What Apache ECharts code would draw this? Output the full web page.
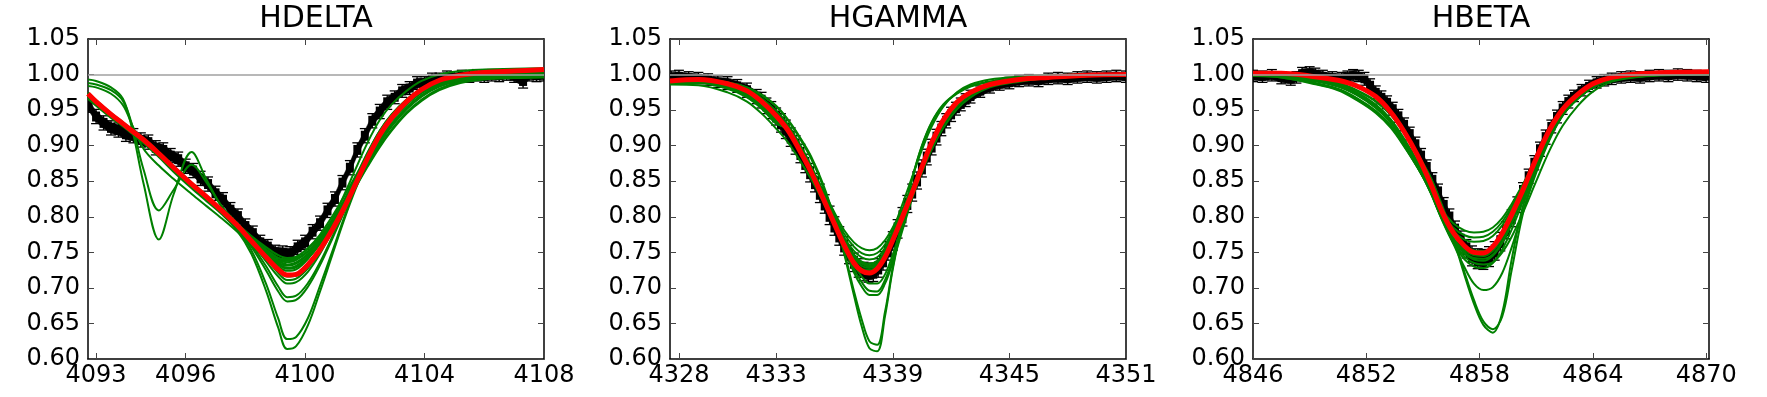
<!DOCTYPE html>
<html lang="en">
<head>
<meta charset="UTF-8">
<title>Balmer line fits</title>
<script src="https://cdn.jsdelivr.net/npm/echarts@6/dist/echarts.min.js"></script>
<style>
  body { margin: 0; padding: 0; background: #fff; }
  #main { width: 1767px; height: 397px; }
</style>
</head>
<body>
<div id="main"></div>
<script>
// ---------------- panel names / axes ----------------
var titles = ['HDELTA', 'HGAMMA', 'HBETA'];
var xRange1 = [4092.73, 4108.0];
var xRange2 = [4327.54, 4351.0];
var xRange3 = [4846.0, 4870.15];
var ticks1 = [4093, 4096, 4100, 4104, 4108];
var ticks2 = [4328, 4333, 4339, 4345, 4351];
var ticks3 = [4846, 4852, 4858, 4864, 4870];
var yMin = 0.60, yMax = 1.05, yStep = 0.05;

// ---------------- HDELTA ----------------
// observed spectrum: [wavelength, flux, error]
var obs1 = [
  [4092.75,0.957,0.010],[4093.00,0.941,0.010],[4093.25,0.932,0.010],[4093.50,0.925,0.010],
  [4093.75,0.922,0.010],[4094.00,0.916,0.010],[4094.25,0.914,0.010],[4094.50,0.908,0.010],
  [4094.75,0.905,0.010],[4095.00,0.897,0.010],[4095.25,0.894,0.010],[4095.50,0.886,0.010],
  [4095.75,0.881,0.010],[4096.00,0.871,0.010],[4096.25,0.865,0.010],[4096.50,0.854,0.010],
  [4096.75,0.846,0.010],[4097.00,0.833,0.010],[4097.25,0.824,0.010],[4097.50,0.810,0.010],
  [4097.75,0.801,0.010],[4098.00,0.787,0.010],[4098.25,0.777,0.010],[4098.50,0.764,0.010],
  [4098.75,0.758,0.010],[4099.00,0.750,0.010],[4099.25,0.749,0.010],[4099.50,0.748,0.010],
  [4099.75,0.757,0.010],[4100.00,0.764,0.010],[4100.25,0.779,0.010],[4100.50,0.791,0.010],
  [4100.75,0.809,0.010],[4101.00,0.825,0.010],[4101.25,0.848,0.010],[4101.50,0.869,0.010],
  [4101.75,0.894,0.010],[4102.00,0.914,0.010],[4102.25,0.935,0.010],[4102.50,0.948,0.010],
  [4102.75,0.961,0.010],[4103.00,0.968,0.009],[4103.25,0.977,0.009],[4103.50,0.981,0.009],
  [4103.75,0.988,0.009],[4104.00,0.989,0.008],[4104.25,0.994,0.008],[4104.50,0.994,0.008],
  [4104.75,0.997,0.008],[4105.00,0.996,0.008],[4105.25,0.998,0.008],[4105.50,0.997,0.008],
  [4105.75,0.999,0.008],[4106.00,0.997,0.008],[4106.25,0.999,0.008],[4106.50,0.998,0.008],
  [4106.75,1.000,0.008],[4107.00,0.997,0.008],[4107.30,0.991,0.010],[4107.50,0.999,0.008],
  [4107.75,0.998,0.008],[4108.00,0.999,0.008]
];
var xs1 = [4092.73,4093.0,4093.5,4093.9,4094.2,4094.6,4095.1,4095.6,4096.2,4096.7,4097.2,4097.7,
           4098.2,4098.7,4099.1,4099.4,4099.7,4100.1,4100.5,4100.9,4101.3,4101.7,4102.1,4102.5,
           4102.9,4103.4,4103.9,4104.5,4105.2,4106.0,4107.0,4108.0];
var best1 = [.973,.962,.944,.931,.921,.908,.889,.869,.846,.828,.809,.789,.766,.743,.726,.718,.719,.733,.754,.781,.812,.847,.883,.915,.939,.962,.979,.992,.999,1.003,1.005,1.007];
var models1 = [
  [.993,.991,.982,.966,.925,.845,.768,.832,.891,.852,.815,.792,.770,.748,.733,.727,.729,.742,.762,.789,.820,.855,.890,.921,.944,.965,.980,.991,.997,1.000,1.002,1.003],
  [.988,.986,.978,.963,.930,.865,.809,.838,.873,.848,.815,.792,.770,.749,.734,.728,.730,.743,.763,.790,.821,.856,.891,.921,.944,.965,.980,.991,.997,1.000,1.002,1.003],
  [.984,.982,.973,.957,.930,.895,.872,.853,.832,.815,.798,.780,.760,.740,.724,.716,.717,.731,.752,.779,.810,.846,.882,.914,.938,.961,.978,.990,.997,1.001,1.004,1.006],
  [.966,.956,.939,.927,.917,.903,.884,.863,.840,.822,.804,.782,.748,.695,.644,.614,.618,.648,.695,.745,.795,.840,.878,.910,.935,.958,.976,.989,.996,1.001,1.003,1.004],
  [.969,.958,.941,.928,.918,.905,.886,.865,.842,.824,.806,.784,.753,.705,.657,.628,.631,.658,.703,.750,.798,.843,.880,.912,.937,.960,.977,.990,.997,1.001,1.003,1.004],
  [.970,.960,.942,.929,.919,.905,.886,.866,.843,.825,.806,.785,.758,.724,.695,.681,.683,.702,.732,.768,.806,.845,.881,.912,.936,.959,.976,.989,.996,1.001,1.003,1.005],
  [.972,.961,.943,.930,.920,.907,.888,.868,.845,.827,.808,.787,.761,.730,.702,.687,.689,.707,.736,.771,.808,.847,.882,.913,.937,.960,.977,.990,.997,1.002,1.004,1.005],
  [.971,.960,.942,.929,.919,.906,.887,.867,.845,.826,.807,.787,.764,.737,.716,.706,.708,.723,.748,.779,.812,.848,.883,.914,.938,.960,.977,.990,.997,1.001,1.003,1.004],
  [.974,.963,.945,.932,.922,.909,.890,.870,.847,.829,.810,.790,.767,.742,.721,.711,.713,.728,.752,.781,.813,.848,.883,.914,.938,.960,.977,.990,.997,1.002,1.004,1.006],
  [.970,.960,.942,.929,.919,.906,.887,.867,.845,.827,.808,.788,.767,.747,.733,.728,.731,.744,.762,.786,.813,.842,.871,.898,.921,.945,.963,.978,.988,.993,.995,.996],
  [.972,.962,.944,.931,.921,.908,.889,.869,.847,.829,.810,.790,.770,.751,.738,.733,.736,.748,.766,.789,.815,.844,.873,.900,.923,.947,.965,.980,.990,.995,.997,.998],
  [.969,.959,.941,.928,.918,.905,.886,.867,.846,.828,.810,.791,.772,.754,.742,.738,.741,.752,.769,.791,.817,.846,.875,.903,.927,.951,.969,.983,.992,.996,.998,.999],
  [.973,.962,.944,.931,.921,.908,.889,.869,.846,.828,.809,.789,.768,.746,.730,.724,.726,.741,.764,.795,.830,.868,.905,.936,.958,.977,.991,1.000,1.005,1.007,1.008,1.009],
  [.975,.964,.946,.933,.923,.910,.891,.871,.848,.830,.811,.791,.770,.749,.736,.731,.734,.747,.767,.793,.822,.854,.886,.914,.937,.959,.975,.987,.995,1.000,1.002,1.003],
  [.970,.961,.943,.930,.920,.907,.888,.868,.846,.828,.809,.789,.769,.750,.739,.736,.739,.751,.770,.795,.823,.852,.881,.908,.931,.954,.971,.984,.992,.997,1.000,1.001],
  [.971,.961,.943,.930,.920,.907,.888,.868,.846,.828,.810,.791,.773,.757,.746,.742,.744,.755,.772,.795,.821,.850,.879,.906,.929,.952,.970,.984,.993,.998,1.001,1.002],
  [.972,.962,.944,.931,.921,.908,.889,.869,.847,.829,.810,.790,.771,.753,.742,.740,.743,.756,.775,.800,.828,.858,.888,.915,.937,.958,.974,.986,.994,.999,1.001,1.002]
];

// ---------------- HGAMMA ----------------
var obs2 = [
  [4327.6,0.997,0.008],[4328.0,0.998,0.008],[4328.5,0.996,0.008],[4329.0,0.995,0.008],
  [4329.5,0.993,0.008],[4330.0,0.990,0.008],[4330.5,0.988,0.009],[4331.0,0.984,0.009],
  [4331.5,0.978,0.010],[4332.0,0.969,0.010],[4332.25,0.964,0.011],[4332.5,0.956,0.011],
  [4332.75,0.950,0.012],[4333.0,0.941,0.012],[4333.25,0.932,0.013],[4333.5,0.923,0.013],
  [4333.75,0.912,0.013],[4334.0,0.901,0.013],[4334.25,0.889,0.013],[4334.5,0.875,0.013],
  [4334.75,0.862,0.013],[4335.0,0.848,0.013],[4335.25,0.833,0.013],[4335.5,0.818,0.013],
  [4335.75,0.802,0.013],[4336.0,0.787,0.013],[4336.25,0.773,0.013],[4336.5,0.759,0.013],
  [4336.75,0.747,0.013],[4337.0,0.736,0.013],[4337.25,0.728,0.013],[4337.5,0.723,0.013],
  [4337.75,0.721,0.013],[4338.0,0.722,0.013],[4338.25,0.728,0.013],[4338.5,0.738,0.013],
  [4338.75,0.752,0.013],[4339.0,0.766,0.013],[4339.25,0.783,0.013],[4339.5,0.800,0.013],
  [4339.75,0.818,0.012],[4340.0,0.834,0.012],[4340.25,0.851,0.012],[4340.5,0.868,0.012],
  [4340.75,0.884,0.011],[4341.0,0.898,0.011],[4341.25,0.912,0.011],[4341.5,0.924,0.010],
  [4341.75,0.935,0.010],[4342.0,0.944,0.010],[4342.25,0.952,0.009],[4342.5,0.958,0.009],
  [4342.75,0.964,0.009],[4343.0,0.969,0.009],[4343.5,0.976,0.008],[4344.0,0.982,0.008],
  [4344.5,0.986,0.008],[4345.0,0.988,0.008],[4345.5,0.991,0.008],[4346.0,0.992,0.008],
  [4346.5,0.991,0.008],[4347.0,0.994,0.008],[4347.5,0.995,0.008],[4348.0,0.994,0.008],
  [4348.5,0.996,0.008],[4349.0,0.997,0.008],[4349.5,0.996,0.008],[4350.0,0.997,0.008],
  [4350.5,0.998,0.008],[4351.0,0.997,0.008]
];
var xs2 = [4327.54,4329.0,4330.5,4331.5,4332.3,4333.0,4333.6,4334.2,4334.8,4335.4,4336.0,4336.5,
           4337.0,4337.4,4337.8,4338.2,4338.6,4339.0,4339.5,4340.0,4340.5,4341.0,4341.6,4342.3,
           4343.0,4344.0,4345.5,4347.0,4349.0,4351.0];
var best2 = [.991,.993,.987,.977,.961,.942,.922,.894,.863,.827,.790,.760,.735,.724,.721,.727,.743,.767,.800,.834,.870,.904,.936,.961,.975,.986,.993,.996,.999,1.000];
var models2 = [
  [.992,.993,.989,.982,.971,.956,.937,.913,.885,.847,.798,.748,.690,.646,.615,.611,.660,.726,.793,.853,.899,.932,.957,.973,.983,.990,.995,.997,.999,1.000],
  [.992,.993,.989,.982,.970,.955,.936,.911,.882,.844,.797,.751,.696,.656,.625,.620,.666,.729,.796,.854,.900,.933,.958,.974,.984,.990,.995,.997,.999,1.000],
  [.990,.990,.983,.972,.957,.938,.921,.895,.866,.831,.792,.758,.722,.702,.690,.690,.706,.736,.781,.826,.867,.903,.936,.960,.975,.986,.993,.997,.999,1.000],
  [.991,.991,.984,.973,.958,.939,.922,.896,.867,.832,.794,.761,.727,.708,.696,.695,.711,.741,.786,.830,.870,.906,.938,.962,.976,.987,.994,.997,.999,1.000],
  [.990,.990,.983,.972,.956,.937,.921,.895,.866,.832,.796,.765,.733,.716,.706,.706,.719,.747,.789,.831,.871,.906,.938,.962,.976,.987,.993,.996,.998,.999],
  [.988,.988,.980,.968,.951,.931,.924,.899,.870,.838,.806,.781,.764,.756,.753,.756,.767,.785,.811,.841,.872,.903,.933,.957,.972,.984,.991,.995,.998,.999],
  [.989,.989,.981,.969,.952,.932,.923,.897,.868,.835,.802,.776,.758,.749,.746,.749,.761,.780,.808,.839,.871,.903,.933,.957,.972,.984,.991,.995,.998,.999],
  [.990,.990,.983,.971,.954,.934,.923,.896,.866,.832,.798,.771,.752,.743,.740,.743,.756,.777,.806,.838,.871,.903,.933,.957,.972,.984,.991,.995,.998,.999],
  [.989,.989,.982,.970,.953,.933,.922,.895,.865,.830,.795,.767,.747,.737,.734,.738,.752,.774,.804,.837,.871,.903,.933,.957,.972,.984,.991,.995,.998,.999],
  [.990,.991,.984,.973,.957,.937,.922,.895,.864,.829,.793,.764,.742,.731,.728,.732,.747,.770,.801,.834,.868,.900,.930,.955,.971,.984,.991,.995,.998,.999],
  [.992,.993,.988,.980,.966,.949,.930,.903,.872,.834,.793,.762,.737,.727,.725,.732,.752,.780,.818,.856,.894,.927,.955,.975,.986,.993,.997,.999,1.000,1.001],
  [.986,.985,.975,.962,.944,.924,.905,.880,.853,.822,.790,.764,.744,.734,.730,.733,.746,.767,.796,.828,.862,.894,.925,.951,.968,.982,.990,.995,.998,.999],
  [.989,.989,.982,.971,.955,.936,.923,.896,.866,.831,.796,.768,.745,.735,.732,.735,.749,.771,.802,.835,.869,.901,.931,.956,.972,.984,.991,.995,.998,.999]
];

// ---------------- HBETA ----------------
var obs3 = [
  [4846.0,0.998,0.008],[4846.5,0.997,0.008],[4847.0,0.999,0.008],[4847.5,0.995,0.008],
  [4848.0,0.993,0.008],[4848.3,0.996,0.008],[4848.6,1.002,0.008],[4849.0,1.003,0.008],
  [4849.3,1.001,0.008],[4849.7,0.998,0.008],[4850.2,0.996,0.008],[4850.7,0.995,0.008],
  [4851.0,0.997,0.008],[4851.3,0.999,0.008],[4851.6,0.998,0.008],[4851.9,0.994,0.009],
  [4852.2,0.985,0.009],[4852.5,0.975,0.009],[4852.8,0.968,0.009],[4853.1,0.961,0.009],
  [4853.4,0.952,0.009],[4853.7,0.942,0.009],[4854.0,0.930,0.009],[4854.3,0.917,0.009],
  [4854.6,0.902,0.010],[4854.9,0.886,0.010],[4855.2,0.870,0.010],[4855.5,0.852,0.010],
  [4855.8,0.835,0.011],[4856.1,0.816,0.011],[4856.4,0.799,0.012],[4856.7,0.782,0.012],
  [4857.0,0.767,0.013],[4857.3,0.755,0.013],[4857.6,0.745,0.014],[4857.9,0.741,0.014],
  [4858.2,0.740,0.014],[4858.5,0.744,0.014],[4858.8,0.752,0.013],[4859.1,0.765,0.013],
  [4859.4,0.781,0.012],[4859.7,0.798,0.012],[4860.0,0.817,0.011],[4860.3,0.837,0.011],
  [4860.6,0.857,0.010],[4860.9,0.876,0.010],[4861.2,0.895,0.010],[4861.5,0.912,0.010],
  [4861.8,0.927,0.009],[4862.1,0.941,0.009],[4862.4,0.953,0.009],[4862.7,0.962,0.009],
  [4863.0,0.970,0.008],[4863.4,0.978,0.008],[4863.8,0.984,0.008],[4864.2,0.989,0.008],
  [4864.6,0.992,0.008],[4865.0,0.994,0.008],[4865.5,0.996,0.008],[4866.0,0.997,0.008],
  [4866.5,0.996,0.008],[4867.0,0.998,0.008],[4867.5,0.999,0.008],[4868.0,0.998,0.008],
  [4868.5,1.000,0.008],[4869.0,0.999,0.008],[4869.5,0.998,0.008],[4870.0,0.997,0.008]
];
var xs3 = [4846.0,4847.5,4849.0,4850.5,4851.5,4852.5,4853.3,4854.0,4854.7,4855.4,4856.0,4856.6,
           4857.2,4857.7,4858.2,4858.7,4859.2,4859.7,4860.3,4861.0,4861.7,4862.4,4863.2,4864.0,
           4865.0,4866.5,4868.0,4870.15];
var best3 = [1.002,1.002,.998,.992,.984,.969,.947,.920,.887,.847,.808,.778,.759,.750,.749,.758,.777,.803,.838,.882,.922,.951,.972,.987,.996,1.001,1.003,1.004];
var models3 = [
  [1.000,.999,.995,.987,.977,.962,.943,.918,.888,.855,.815,.770,.718,.678,.648,.637,.665,.740,.815,.870,.915,.948,.971,.986,.996,1.000,1.001,1.002],
  [1.000,.999,.995,.988,.978,.963,.944,.919,.889,.856,.817,.773,.722,.683,.653,.642,.660,.725,.805,.866,.912,.946,.970,.985,.995,.999,1.001,1.002],
  [1.000,.999,.994,.986,.975,.958,.937,.910,.878,.841,.801,.763,.729,.706,.697,.701,.721,.757,.808,.862,.908,.942,.967,.984,.994,.999,1.001,1.002],
  [1.000,.998,.993,.985,.973,.955,.933,.905,.872,.834,.796,.763,.740,.730,.728,.735,.754,.782,.822,.868,.910,.943,.967,.984,.994,.999,1.001,1.002],
  [1.001,.999,.994,.986,.974,.957,.935,.907,.874,.836,.798,.767,.748,.740,.738,.745,.763,.790,.827,.872,.913,.945,.968,.984,.994,.999,1.001,1.002],
  [1.000,.998,.992,.983,.971,.953,.932,.904,.872,.835,.798,.770,.753,.746,.745,.752,.770,.796,.831,.874,.914,.945,.968,.984,.994,.999,1.001,1.002],
  [.999,.997,.990,.980,.967,.949,.928,.901,.870,.836,.803,.780,.768,.765,.766,.773,.788,.810,.840,.878,.915,.944,.966,.982,.993,.998,1.000,1.001],
  [.999,.996,.989,.979,.966,.948,.927,.900,.870,.837,.806,.785,.774,.771,.772,.779,.793,.814,.843,.880,.916,.944,.966,.982,.993,.998,1.000,1.001],
  [.998,.996,.988,.978,.964,.946,.925,.899,.870,.839,.810,.791,.781,.778,.779,.785,.798,.818,.846,.882,.917,.945,.966,.982,.992,.997,.999,1.000],
  [1.000,.998,.992,.984,.972,.954,.933,.905,.873,.836,.800,.774,.759,.753,.752,.758,.775,.800,.834,.876,.915,.945,.968,.984,.994,.999,1.001,1.002],
  [1.000,.998,.993,.985,.973,.956,.934,.906,.873,.835,.797,.765,.744,.735,.733,.736,.750,.772,.806,.850,.893,.928,.956,.976,.990,.997,1.000,1.001],
  [1.000,.998,.993,.984,.972,.955,.933,.905,.873,.836,.799,.769,.750,.742,.741,.747,.765,.792,.829,.873,.913,.944,.967,.983,.993,.998,1.000,1.001]
];

// ---------------- build chart ----------------
var panels = [
  {obs: obs1, xs: xs1, best: best1, models: models1, range: xRange1, ticks: ticks1, left: 88},
  {obs: obs2, xs: xs2, best: best2, models: models2, range: xRange2, ticks: ticks2, left: 670},
  {obs: obs3, xs: xs3, best: best3, models: models3, range: xRange3, ticks: ticks3, left: 1253}
];
var plotW = 456, plotH = 320, plotTop = 39;
var font = 'DejaVu Sans';

function pairs(xs, ys) {
  return xs.map(function (x, i) { return [x, ys[i]]; });
}

// error bar with caps; the cap width is also filled so that the dense
// spectrum reads as a solid hatched band, plus a strip to the next point
function makeBarRenderer(obs) {
  return function (params, api) {
    var i = params.dataIndex;
    var x = api.value(0), y = api.value(1), e = api.value(2);
    var hi = api.coord([x, y + e]);
    var lo = api.coord([x, y - e]);
    var w = 5;
    var st = {stroke: '#000', lineWidth: 1.3};
    var inHi = api.coord([x, y + e * 0.7]), inLo = api.coord([x, y - e * 0.7]);
    var kids = [
      {type: 'line', shape: {x1: hi[0], y1: hi[1], x2: lo[0], y2: lo[1]}, style: st},
      {type: 'line', shape: {x1: hi[0] - w, y1: hi[1], x2: hi[0] + w, y2: hi[1]}, style: st},
      {type: 'line', shape: {x1: lo[0] - w, y1: lo[1], x2: lo[0] + w, y2: lo[1]}, style: st},
      {type: 'rect', shape: {x: inHi[0] - w + 1, y: inHi[1], width: 2 * w - 2, height: inLo[1] - inHi[1]},
       style: {fill: '#000'}}
    ];
    if (i < obs.length - 1) {
      var n = obs[i + 1];
      var f = 0.75;
      var a = api.coord([x, y + e * f]), b = api.coord([n[0], n[1] + n[2] * f]);
      var c = api.coord([n[0], n[1] - n[2] * f]), d = api.coord([x, y - e * f]);
      kids.push({type: 'polygon', shape: {points: [a, b, c, d]},
                 style: {fill: '#000', stroke: '#000', lineWidth: 0.5}});
    }
    return {type: 'group', children: kids};
  };
}

var grids = [], xAxes = [], yAxes = [], series = [], titleList = [];
var frame = {show: true, onZero: false, lineStyle: {color: '#000', width: 1.5}};
var tickStyle = {color: '#444', width: 1};

panels.forEach(function (p, i) {
  grids.push({left: p.left, top: plotTop, width: plotW, height: plotH, containLabel: false});
  titleList.push({
    text: titles[i], left: p.left + plotW / 2, top: 4, textAlign: 'center', padding: 0,
    textStyle: {fontFamily: font, fontSize: 30, fontWeight: 'normal', color: '#000'}
  });
  // bottom + top x axes
  xAxes.push({
    type: 'value', gridIndex: i, min: p.range[0], max: p.range[1], position: 'bottom',
    axisLine: frame, splitLine: {show: false},
    axisTick: {inside: true, length: 6, customValues: p.ticks, lineStyle: tickStyle},
    axisLabel: {customValues: p.ticks, fontFamily: font, fontSize: 24, color: '#000', margin: 5,
                formatter: function (v) { return String(Math.round(v)); }}
  });
  xAxes.push({
    type: 'value', gridIndex: i, min: p.range[0], max: p.range[1], position: 'top',
    axisLine: frame, splitLine: {show: false},
    axisTick: {inside: true, length: 6, customValues: p.ticks, lineStyle: tickStyle},
    axisLabel: {show: false}
  });
  // left + right y axes
  yAxes.push({
    type: 'value', gridIndex: i, min: yMin, max: yMax, interval: yStep, position: 'left',
    axisLine: frame, splitLine: {show: false},
    axisTick: {inside: true, length: 6, lineStyle: tickStyle},
    axisLabel: {fontFamily: font, fontSize: 24, color: '#000', margin: 8,
                formatter: function (v) { return v.toFixed(2); }}
  });
  yAxes.push({
    type: 'value', gridIndex: i, min: yMin, max: yMax, interval: yStep, position: 'right',
    axisLine: frame, splitLine: {show: false},
    axisTick: {inside: true, length: 6, lineStyle: tickStyle},
    axisLabel: {show: false}
  });

  var xi = 2 * i, yi = 2 * i;
  // continuum level
  series.push({
    type: 'line', xAxisIndex: xi, yAxisIndex: yi, data: [], z: 1,
    markLine: {silent: true, symbol: 'none', label: {show: false},
               lineStyle: {color: '#a0a0a0', width: 1.5, type: 'solid'},
               data: [{yAxis: 1.0}]}
  });
  // observed points with error bars
  series.push({
    type: 'custom', xAxisIndex: xi, yAxisIndex: yi, data: p.obs, clip: true, z: 2,
    renderItem: makeBarRenderer(p.obs), encode: {x: 0, y: 1}
  });
  // model realisations
  p.models.forEach(function (m) {
    series.push({
      type: 'line', xAxisIndex: xi, yAxisIndex: yi, z: 3, showSymbol: false, smooth: 0.35,
      data: pairs(p.xs, m), lineStyle: {color: '#008000', width: 2}
    });
  });
  // best fit
  series.push({
    type: 'line', xAxisIndex: xi, yAxisIndex: yi, z: 4, showSymbol: false, smooth: 0.35,
    data: pairs(p.xs, p.best), lineStyle: {color: '#ff0000', width: 5}
  });
});

var chart = echarts.init(document.getElementById('main'));
chart.setOption({
  animation: false,
  backgroundColor: '#fff',
  title: titleList,
  grid: grids,
  xAxis: xAxes,
  yAxis: yAxes,
  series: series
});
</script>
</body>
</html>
